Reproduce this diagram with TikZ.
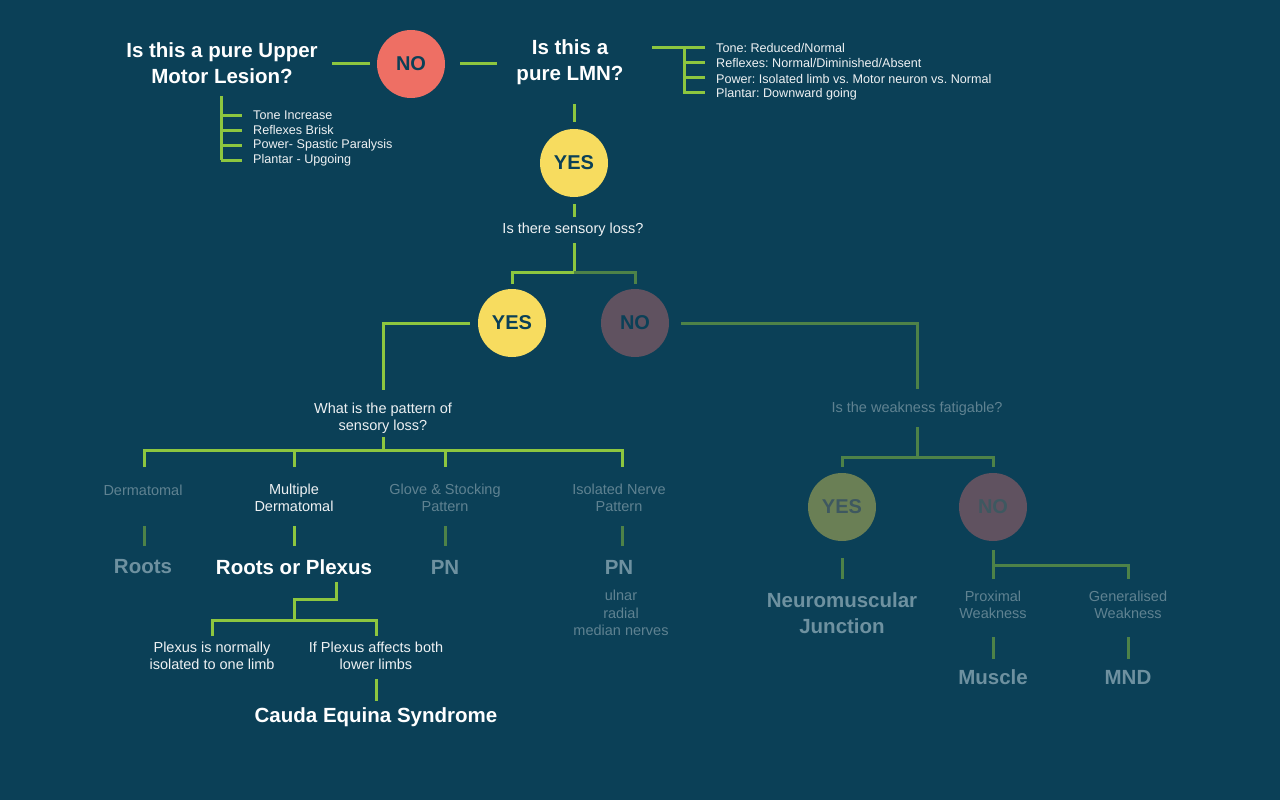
\documentclass[tikz,border=0pt]{standalone}
\usepackage{fontspec}
\setmainfont{Liberation Sans}
\usetikzlibrary{calc}
\frenchspacing
\definecolor{bg}{RGB}{11,64,87}
\definecolor{gbright}{RGB}{141,198,63}
\definecolor{gdim}{RGB}{78,130,72}
\definecolor{nored}{RGB}{238,111,100}
\definecolor{yesyel}{RGB}{247,220,95}
\definecolor{nodim}{RGB}{96,82,96}
\definecolor{yesdim}{RGB}{106,127,85}
\definecolor{txtdim}{RGB}{95,130,145}
\definecolor{txtdimb}{RGB}{110,145,160}
\definecolor{txtw}{RGB}{238,241,243}
\definecolor{circtxt}{RGB}{11,64,87}
\definecolor{circtxtdim}{RGB}{62,88,96}
\tikzset{
  gl/.style={draw=gbright,line width=3pt},
  gd/.style={draw=gdim,line width=3pt},
  bubble/.style={circle,minimum size=68pt,inner sep=0pt,font=\bfseries\fontsize{20}{24}\selectfont,text=circtxt},
  title/.style={align=center,text=white,font=\bfseries\fontsize{20.5}{26}\selectfont},
  result/.style={align=center,text=white,font=\bfseries\fontsize{20.5}{26}\selectfont},
  resultdim/.style={align=center,text=txtdimb,font=\bfseries\fontsize{20.5}{26}\selectfont},
  q/.style={align=center,text=txtw,font=\fontsize{14.5}{17.5}\selectfont},
  qdim/.style={align=center,text=txtdim,font=\fontsize{14.5}{17.5}\selectfont},
  lst/.style={anchor=west,text=txtw,font=\fontsize{12.6}{14}\selectfont,inner sep=0pt},
}
\begin{document}
\begin{tikzpicture}[x=1pt,y=-1pt]
\fill[bg] (0,0) rectangle (1280,800);
\useasboundingbox (0,0) rectangle (1280,800);

% ---- top row
\node[title] (upper) at (222,63) {Is this a pure Upper\\Motor Lesion?};
\node[bubble,fill=nored] (no1) at (411,64) {NO};
\node[title] (lmn) at (570,62) {Is this a\\pure LMN?};
\coordinate (u1) at (332,64);
\coordinate (n1) at (497,64);
\draw[gl] (u1) -- ($(no1.west)+(-7,0)$);
\draw[gl] ($(no1.east)+(15,0)$) -- (n1);

% upper list
\coordinate (ul0) at (221,96);
\coordinate (ul1) at (221,160);
\draw[gl] (ul0) -- (ul1);
\foreach \yy/\tt [count=\i] in {115/Tone Increase,130/Reflexes Brisk,145/Power- Spastic Paralysis,160/Plantar - Upgoing}{
  \node[lst] (ut\i) at (253,\yy) {\tt};
  \draw[gl] (221,\yy) -- (242,\yy);
}

% lmn list
\coordinate (lm0) at (652,48);
\coordinate (lm1) at (705,48);
\draw[gl] (lm0) -- (lm1);
\draw[gl] (684,48) -- (684,93.5);
\foreach \yy in {63,78,92}{\draw[gl] (684,\yy) -- (705,\yy);}
\node[lst] (lt1) at (716,48) {Tone: Reduced/Normal};
\node[lst] (lt2) at (716,63) {Reflexes: Normal/Diminished/Absent};
\node[lst] (lt3) at (716,78.5) {Power: Isolated limb vs. Motor neuron vs. Normal};
\node[lst] (lt4) at (716,94) {Plantar: Downward going};

% ---- YES under LMN
\node[bubble,fill=yesyel] (yes1) at (574,163) {YES};
\draw[gl] (574,104) -- ($(yes1.north)+(0,-7)$);
\node[q] (sens) at (573,230) {Is there sensory loss?};
\draw[gl] ($(yes1.south)+(0,7)$) -- (574,217);

\node[bubble,fill=yesyel] (yes2) at (512,323) {YES};
\node[bubble,fill=nodim,text=circtxt] (no2) at (635,323) {NO};
\coordinate (sj) at (574,272);
\draw[gl] (574,243) -- (sj);
\draw[gl] (sj) -| ($(yes2.north)+(0,-5)$);
\draw[gd] (sj) -| ($(no2.north)+(0,-5)$);

% ---- YES branch: pattern
\node[q] (pat) at (383,418) {What is the pattern of\\sensory loss?};
\draw[gl] ($(yes2.west)+(-8,0)$) -| (383,390);
\coordinate (pj) at (383,450);
\draw[gl] (383,437) -- (pj);
\draw[gl] (144,467) |- (622,450) -- (622,467);
\draw[gl] (294,450) -- (294,467);
\draw[gl] (445,450) -- (445,467);

\node[qdim] (derm) at (143,490) {Dermatomal};
\node[q] (mderm) at (294,498) {Multiple\\Dermatomal};
\node[qdim] (glove) at (445,498) {Glove \& Stocking\\Pattern};
\node[qdim] (isol) at (619,498) {Isolated Nerve\\Pattern};

\draw[gd] (144,526) -- (144,546);
\draw[gl] (294,526) -- (294,546);
\draw[gd] (445,526) -- (445,546);
\draw[gd] (622,526) -- (622,546);

\node[resultdim] (roots) at (143,567) {Roots};
\node[result] (rp) at (294,567) {Roots or Plexus};
\node[resultdim] (pn1) at (445,567) {PN};
\node[resultdim] (pn2) at (619,567) {PN};
\node[qdim] (nerves) at (621,613) {ulnar\\radial\\median nerves};

% Roots or Plexus sub-branch
\draw[gl] (336,582) |- (294,599) -- (294,620);
\draw[gl] (212,636) |- (376,620) -- (376,636);
\node[q] (plex1) at (212,656) {Plexus is normally\\isolated to one limb};
\node[q] (plex2) at (376,656) {If Plexus affects both\\lower limbs};
\draw[gl] (376,679) -- (376,701);
\node[result] (cauda) at (376,717) {Cauda Equina Syndrome};

% ---- NO branch
\draw[gd] ($(no2.east)+(12,0)$) -| (917,389);
\node[qdim] (fat) at (917,409) {Is the weakness fatigable?};
\draw[gd] (917,427) -- (917,457);
\node[bubble,fill=yesdim,text=circtxtdim] (yes3) at (842,507) {YES};
\node[bubble,fill=nodim,text=circtxtdim] (no3) at (993,507) {NO};
\draw[gd] ($(yes3.north)+(0,-6)$) |- (993,457) -- ($(no3.north)+(0,-6)$);

\draw[gd] ($(yes3.south)+(0,17)$) -- (842,579);
\node[resultdim] (nmj) at (842,613) {Neuromuscular\\Junction};

\draw[gd] ($(no3.south)+(0,9)$) -- (993,579);
\draw[gd] (993,565) -| (1128,579);
\node[qdim] (prox) at (993,605) {Proximal\\Weakness};
\node[qdim] (gen) at (1128,605) {Generalised\\Weakness};
\draw[gd] (993,637) -- (993,659);
\draw[gd] (1128,637) -- (1128,659);
\node[resultdim] (muscle) at (993,677) {Muscle};
\node[resultdim] (mnd) at (1128,677) {MND};
\end{tikzpicture}
\end{document}
